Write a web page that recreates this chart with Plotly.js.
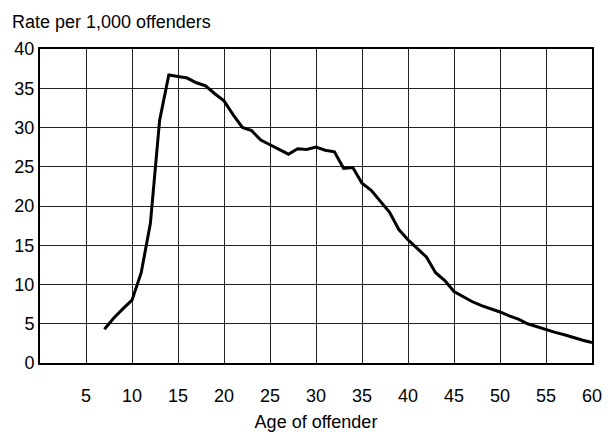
<!DOCTYPE html>
<html>
<head>
<meta charset="utf-8">
<script src="https://cdn.plot.ly/plotly-3.0.1.min.js"></script>
<style>html,body{margin:0;padding:0;background:#fff;}#chart{width:607px;height:433px;}</style>
</head>
<body>
<div id="chart"></div>
<script>
// Age of offender (years)
const ages = [7,8,9,10,11,12,13,14,15,16,17,18,19,20,21,22,23,24,25,26,27,28,29,30,31,32,33,34,35,36,37,38,39,40,41,42,43,44,45,46,47,48,49,50,51,52,53,54,55,56,57,58,59,60];
// Rate per 1,000 offenders
const rates = [4.3,5.7,6.9,8.0,11.5,17.8,30.9,36.7,36.5,36.3,35.7,35.3,34.3,33.4,31.6,30.0,29.6,28.4,27.8,27.2,26.6,27.3,27.2,27.5,27.1,26.9,24.8,24.9,22.9,22.0,20.6,19.2,17.0,15.7,14.6,13.5,11.5,10.5,9.1,8.4,7.8,7.3,6.9,6.5,6.0,5.6,5.0,4.6,4.2,3.9,3.6,3.2,2.9,2.6];
const xTicks = [5,10,15,20,25,30,35,40,45,50,55,60];
const yTicks = [0,5,10,15,20,25,30,35,40];

const font = 'Liberation Sans, Arial, Helvetica, sans-serif';
const trace = {
  x: ages, y: rates, type: 'scatter', mode: 'lines',
  line: {color: '#000', width: 3}, hoverinfo: 'none'
};
const layout = {
  width: 607, height: 433,
  margin: {l: 40, r: 15, t: 49, b: 70},
  paper_bgcolor: '#fff', plot_bgcolor: '#fff',
  showlegend: false,
  font: {family: font, size: 18, color: '#000'},
  title: {text: 'Rate per 1,000 offenders', x: 12/607, xanchor: 'left', xref: 'container',
          y: 1 - 22/433, yanchor: 'middle', yref: 'container',
          font: {family: font, size: 18, color: '#000'}},
  xaxis: {
    range: [0, 60], tickvals: xTicks, ticktext: xTicks.map(String),
    showgrid: true, gridcolor: '#222', gridwidth: 1,
    showline: true, mirror: true, linecolor: '#000', linewidth: 2,
    zeroline: false, ticks: 'outside', ticklen: 15, tickcolor: 'rgba(0,0,0,0)',
    tickfont: {family: font, size: 18, color: '#000'},
    title: {text: 'Age of offender', standoff: 11, font: {family: font, size: 18, color: '#000'}},
    automargin: false, fixedrange: true
  },
  yaxis: {
    range: [0, 40], tickvals: yTicks, ticktext: yTicks.map(String),
    showgrid: true, gridcolor: '#222', gridwidth: 1,
    showline: true, mirror: true, linecolor: '#000', linewidth: 2,
    zeroline: false, ticks: '',
    tickfont: {family: font, size: 18, color: '#000'},
    automargin: false, fixedrange: true
  }
};
Plotly.newPlot('chart', [trace], layout, {staticPlot: true, displayModeBar: false});
</script>
</body>
</html>
